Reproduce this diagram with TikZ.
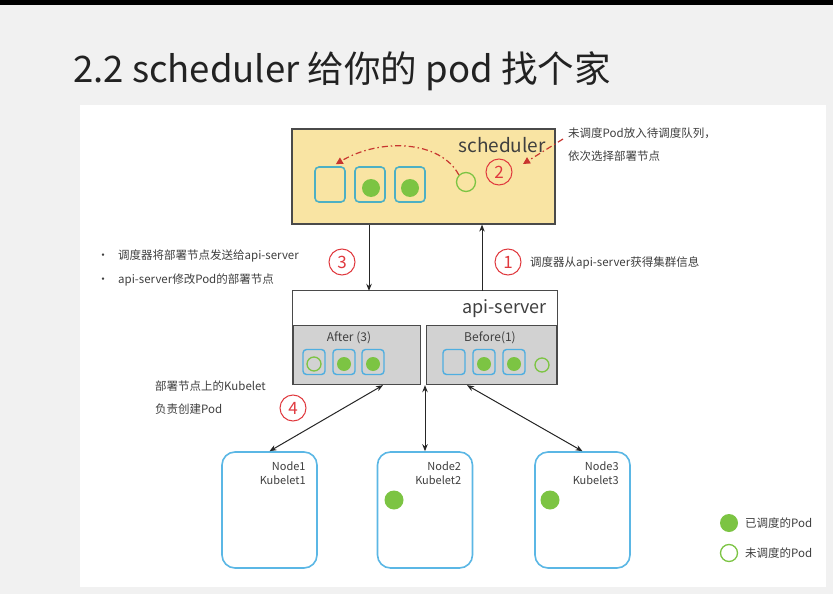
\documentclass[tikz,border=0pt]{standalone}
\usepackage{fontspec}
\setmainfont{Noto Sans CJK SC}
\usetikzlibrary{arrows.meta,calc}
\definecolor{slidebg}{HTML}{F1F1F1}
\definecolor{schedfill}{HTML}{F9E4A3}
\definecolor{boxgray}{HTML}{4A4A4A}
\definecolor{tealpod}{HTML}{4DB0C4}
\definecolor{bluepod}{HTML}{4FAEE0}
\definecolor{nodeblue}{HTML}{5BB7E5}
\definecolor{podgreen}{HTML}{7CC443}
\definecolor{numred}{HTML}{E0393E}
\definecolor{dashred}{HTML}{C8352F}
\definecolor{panelgray}{HTML}{D2D2D2}
\definecolor{notegray}{HTML}{3F3F3F}
\definecolor{titlegray}{HTML}{222222}
\begin{document}
\begin{tikzpicture}[x=1pt,y=-1pt,
  box/.style={draw=boxgray, line width=1.2pt},
  bigpod/.style={draw=tealpod, line width=1.6pt, rounded corners=4pt, minimum width=30pt, minimum height=35pt, inner sep=0pt},
  smallpod/.style={draw=bluepod, line width=1.4pt, rounded corners=3.5pt, minimum width=22pt, minimum height=25pt, inner sep=0pt},
  dot/.style={circle, fill=podgreen, minimum size=#1, inner sep=0pt},
  dot/.default=18pt,
  hollow/.style={circle, draw=podgreen, line width=1.3pt, minimum size=#1, inner sep=0pt},
  hollow/.default=18pt,
  num/.style={circle, draw=numred, text=numred, line width=1pt, minimum size=26pt, inner sep=0pt, font=\fontsize{17}{17}\selectfont},
  note/.style={text=notegray, font=\fontsize{11.5}{14}\selectfont, inner sep=0pt},
  knode/.style={draw=nodeblue, line width=1.6pt, rounded corners=13pt, minimum width=95pt, minimum height=116pt, inner sep=0pt},
  link/.style={line width=1pt, draw=black!85},
  tip/.style={-{Stealth[length=7pt,width=5.5pt]}},
  biptip/.style={{Stealth[length=7pt,width=5.5pt]}-{Stealth[length=7pt,width=5.5pt]}},
  reddash/.style={draw=dashred, line width=1.2pt, dash pattern=on 6pt off 3pt on 1.5pt off 3pt, -{Triangle[length=7pt,width=7pt]}},
  label/.style={text=notegray, inner sep=0pt}
]
\useasboundingbox (0,0) rectangle (833,594);
% slide background
\fill[slidebg] (0,0) rectangle (833,594);
\fill[black] (0,0) rectangle (833,5);
\fill[white] (80,105) rectangle (826,587);

% title
\node[anchor=base west, inner sep=0pt, text=titlegray, font=\fontsize{36.5}{40}\selectfont] (title) at (73,82) {2.2 scheduler 给你的 pod 找个家};

% scheduler
\node[box, fill=schedfill, minimum width=263pt, minimum height=95pt, inner sep=0pt] (sched) at (423.5,176.5) {};
\node[label, anchor=base east, font=\fontsize{19}{20}\selectfont] (schedtxt) at (546,152) {scheduler};
\node[bigpod] (sq1) at (330,184.5) {};
\node[bigpod] (sq2) at (370,184.5) {};
\node[bigpod] (sq3) at (410,184.5) {};
\node[dot] (d2) at (371,188) {};
\node[dot] (d3) at (410,188) {};
\node[hollow=19pt] (qpod) at (466,182) {};
\node[num] (c2) at (499,172) {2};
\draw[reddash] (qpod.135) .. controls (440,140) and (380,138) .. ($(sq1.north east)+(-10,-2)$);
\coordinate (r2s) at (563,139);
\draw[reddash] (r2s) -- ($(c2)+(24,-8)$);
\node[note, anchor=base west, align=left] (n2a) at (568,137) {未调度Pod放入待调度队列，};
\node[note, anchor=base west] (n2b) at (568,160) {依次选择部署节点};

% api-server
\node[fill=white, minimum width=264pt, minimum height=94pt, inner sep=0pt] (api) at (425,338) {};
\draw[box] (api.south west) -- (api.north west) -- (api.north east) -- (api.south east);
\node[label, anchor=base east, font=\fontsize{18}{20}\selectfont] (apitxt) at (547,313) {api-server};
\node[box, fill=panelgray, minimum width=127pt, minimum height=59pt, inner sep=0pt, anchor=south west] (after) at (api.south west) {};
\node[box, fill=panelgray, minimum width=130pt, minimum height=59pt, inner sep=0pt, anchor=south east] (before) at (api.south east) {};
\node[label, font=\fontsize{12}{14}\selectfont] (aftertxt) at (349,338) {After (3)};
\node[label, font=\fontsize{12}{14}\selectfont] (beforetxt) at (490,338) {Before(1)};
\node[smallpod] (a1) at (314,362) {};
\node[smallpod] (a2) at (344,362) {};
\node[smallpod] (a3) at (373,362) {};
\node[hollow=14pt] (ah) at (314,364) {};
\node[dot=14pt] (ad2) at (344,364) {};
\node[dot=14pt] (ad3) at (373,364) {};
\node[smallpod] (b1) at (454,362) {};
\node[smallpod] (b2) at (484,362) {};
\node[smallpod] (b3) at (514,362) {};
\node[dot=14pt] (bd2) at (484,364) {};
\node[dot=14pt] (bd3) at (514,364) {};
\node[hollow=14pt] (bh) at (542,365) {};

% scheduler <-> api-server
\coordinate (x3) at (369,0);
\coordinate (x1) at (482,0);
\draw[link, tip] (sched.south -| x3) -- (api.north -| x3);
\draw[link, tip] (api.north -| x1) -- (sched.south -| x1);
\node[num] (c3) at (342,262) {3};
\node[num] (c1) at (508,262) {1};
\node[note, anchor=base west] (t3a) at (118,259) {调度器将部署节点发送给api-server};
\node[note, anchor=base west] (t3b) at (118,283) {api-server修改Pod的部署节点};
\node[note, anchor=base east] at ($(t3a.base west)+(-9,0)$) {•};
\node[note, anchor=base east] at ($(t3b.base west)+(-9,0)$) {•};
\node[note, anchor=base west] (t1) at (530,266) {调度器从api-server获得集群信息};

% nodes
\node[knode] (n1) at (269.5,510) {};
\node[knode] (n2) at (425,510) {};
\node[knode] (n3) at (582.5,510) {};
\node[label, anchor=north east, align=right, font=\fontsize{11}{14}\selectfont] (n1t) at ($(n1.north east)+(-12,10)$) {Node1\\Kubelet1};
\node[label, anchor=north east, align=right, font=\fontsize{11}{14}\selectfont] (n2t) at ($(n2.north east)+(-12,10)$) {Node2\\Kubelet2};
\node[label, anchor=north east, align=right, font=\fontsize{11}{14}\selectfont] (n3t) at ($(n3.north east)+(-12,10)$) {Node3\\Kubelet3};
\node[dot=19pt] (nd2) at (394,500) {};
\node[dot=19pt] (nd3) at (550,500) {};

\coordinate (xl) at (383,0);
\coordinate (xr) at (467,0);
\draw[link, biptip] (n1.north) -- (api.south -| xl);
\draw[link, biptip] (n2.north) -- (api.south);
\draw[link, biptip] (n3.north) -- (api.south -| xr);
\node[num] (c4) at (293,408) {4};
\node[note, anchor=base west] (t4a) at (155,390) {部署节点上的Kubelet};
\node[note, anchor=base west] (t4b) at (155,413) {负责创建Pod};

% legend
\node[dot=18pt] (lg1) at (729,523) {};
\node[hollow=17pt] (lg2) at (729,553) {};
\node[note, anchor=west] (lt1) at (745,523) {已调度的Pod};
\node[note, anchor=west] (lt2) at (745,553) {未调度的Pod};
\end{tikzpicture}
\end{document}
